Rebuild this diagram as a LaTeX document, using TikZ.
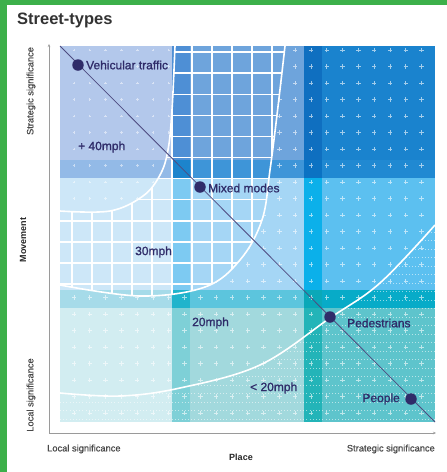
\documentclass[tikz,border=0pt]{standalone}
\usepackage{fontspec}
\setmainfont{Liberation Sans}
\newfontfamily\medfont[FakeBold=1.2]{Liberation Sans}
\newfontfamily\lightmed[FakeBold=0.6]{Liberation Sans}
\usetikzlibrary{arrows.meta}
% cell colours: row (a..e) then column (a..e)
\definecolor{caa}{HTML}{B3C8EB}\definecolor{cab}{HTML}{4E8FD5}\definecolor{cac}{HTML}{6EA4DC}\definecolor{cad}{HTML}{0F6FC0}\definecolor{cae}{HTML}{1A83CE}
\definecolor{cba}{HTML}{93BAE7}\definecolor{cbb}{HTML}{1C84CC}\definecolor{cbc}{HTML}{3E95D8}\definecolor{cbd}{HTML}{0B72C3}\definecolor{cbe}{HTML}{2089D2}
\definecolor{cca}{HTML}{CDE7F8}\definecolor{ccb}{HTML}{7DCAF2}\definecolor{ccc}{HTML}{A5D6F5}\definecolor{ccd}{HTML}{0BB0EA}\definecolor{cce}{HTML}{5CC0F0}
\definecolor{cda}{HTML}{A6DBE9}\definecolor{cdb}{HTML}{20B4CC}\definecolor{cdc}{HTML}{5CC5DD}\definecolor{cdd}{HTML}{0AA8B8}\definecolor{cde}{HTML}{07ABC8}
\definecolor{cea}{HTML}{D2EDF1}\definecolor{ceb}{HTML}{7ED0D7}\definecolor{cec}{HTML}{A2D9DD}\definecolor{ced}{HTML}{23B4B8}\definecolor{cee}{HTML}{5EC4CC}
\definecolor{navy}{HTML}{2F2C69}
\definecolor{frame}{HTML}{3CB04A}
\definecolor{axisgrey}{HTML}{9A9A9A}
\definecolor{titlegrey}{HTML}{333333}
\definecolor{labgrey}{HTML}{4A4A4A}
\newcommand\drawcells{%
\fill[caa] (60,46) rectangle (172,160);\fill[cab] (172,46) rectangle (190,160);\fill[cac] (190,46) rectangle (304,160);\fill[cad] (304,46) rectangle (322,160);\fill[cae] (322,46) rectangle (435,160);
\fill[cba] (60,160) rectangle (172,178);\fill[cbb] (172,160) rectangle (190,178);\fill[cbc] (190,160) rectangle (304,178);\fill[cbd] (304,160) rectangle (322,178);\fill[cbe] (322,160) rectangle (435,178);
\fill[cca] (60,178) rectangle (172,290);\fill[ccb] (172,178) rectangle (190,290);\fill[ccc] (190,178) rectangle (304,290);\fill[ccd] (304,178) rectangle (322,290);\fill[cce] (322,178) rectangle (435,290);
\fill[cda] (60,290) rectangle (172,308);\fill[cdb] (172,290) rectangle (190,308);\fill[cdc] (190,290) rectangle (304,308);\fill[cdd] (304,290) rectangle (322,308);\fill[cde] (322,290) rectangle (435,308);
\fill[cea] (60,308) rectangle (172,422);\fill[ceb] (172,308) rectangle (190,422);\fill[cec] (190,308) rectangle (304,422);\fill[ced] (304,308) rectangle (322,422);\fill[cee] (322,308) rectangle (435,422);}
\tikzset{
  plusmark/.style={white,opacity=0.6,line width=0.9pt},
  smallplus/.style={white,opacity=0.5,line width=0.7pt},
  whitecurve/.style={white,line width=1.6pt},
  gridline/.style={white,line width=1.4pt},
  denserow/.style={white,opacity=0.55,line width=1pt,dash pattern=on 1pt off 2.2pt},
  axisline/.style={axisgrey,line width=0.6pt,-{Stealth[length=3pt,width=2.5pt]}},
  dotnode/.style={circle,fill=navy,inner sep=0pt,minimum size=11.5pt},
  lab/.style={navy,font=\medfont\fontsize{12}{14}\selectfont,inner sep=0pt},
  small/.style={labgrey,font=\lightmed\fontsize{9.3}{11}\selectfont,inner sep=0pt},
  smallbold/.style={black!85,font=\fontsize{9}{11}\selectfont\bfseries,inner sep=0pt}
}
\begin{document}
\begin{tikzpicture}[x=1pt,y=-1pt]
\useasboundingbox (0,0) rectangle (447,472);
\fill[white] (0,0) rectangle (447,472);
% green frame
\fill[frame] (0,0) rectangle (447,5);
\fill[frame] (0,0) rectangle (7,472);
% title
\node[anchor=west,titlegrey,font=\fontsize{16.5}{19}\selectfont\bfseries,inner sep=0pt] (title) at (17,20) {Street-types};
% background cells
\drawcells
% plus marks
\begin{scope}
\clip (60,46) rectangle (435,422);
\foreach \i in {0,...,22}{
  \pgfmathsetmacro\px{74+15.8*\i}
  \foreach \j in {0,...,22}{
    \pgfmathsetmacro\py{50+16.5*\j}
    \draw[plusmark] (\px-2.2,\py) -- (\px+2.2,\py) (\px,\py-2.2) -- (\px,\py+2.2);
  }
}
\end{scope}
% top-left blob with small plus marks
\begin{scope}
\clip (60,46) -- plot[smooth,tension=0.6] coordinates {(175,46) (172,110) (168,150) (160,175) (143,196) (110,211) (60,211)} -- cycle;
\drawcells
\foreach \i in {0,...,7}{
  \pgfmathsetmacro\px{74+15.8*\i}
  \foreach \j in {0,...,10}{
    \pgfmathsetmacro\py{50+16.5*\j}
    \draw[smallplus] (\px-1.3,\py) -- (\px+1.3,\py) (\px,\py-1.3) -- (\px,\py+1.3);
  }
}
\end{scope}
% grid region
\begin{scope}
\clip plot[smooth,tension=0.6] coordinates {(60,285) (140,296) (205,287) (240,260) (262,220) (270,170) (277,115) (285,46)} -- plot[smooth,tension=0.6] coordinates {(175,46) (172,110) (168,150) (160,175) (143,196) (110,211) (60,211)} -- cycle;
\drawcells
\foreach \gx in {72,92,...,292} \draw[gridline] (\gx,40) -- (\gx,305);
\foreach \gy in {52,73.1,...,300} \draw[gridline] (55,\gy) -- (300,\gy);
\end{scope}
% dense texture below bottom curve
\begin{scope}
\clip plot[smooth,tension=0.6] coordinates {(60,393) (120,396) (180,388) (260,365) (330,318) (380,283) (435,225)} -- (435,422) -- (60,422) -- cycle;
\foreach \dy in {232,240.5,...,420} \draw[denserow] (60,\dy) -- (435,\dy);
\end{scope}
% white curves
\draw[whitecurve] plot[smooth,tension=0.6] coordinates {(60,211) (110,211) (143,196) (160,175) (168,150) (172,110) (175,46)};
\draw[whitecurve] plot[smooth,tension=0.6] coordinates {(60,285) (140,296) (205,287) (240,260) (262,220) (270,170) (277,115) (285,46)};
\draw[whitecurve] plot[smooth,tension=0.6] coordinates {(60,393) (120,396) (180,388) (260,365) (330,318) (380,283) (435,225)};
% axes
\coordinate (origin) at (49,433);
\coordinate (ytop) at (49,44);
\coordinate (xend) at (436,433);
\draw[axisline] (origin) -- (ytop);
\draw[axisline] (origin) -- (xend);
% diagonal
\coordinate (dstart) at (60,46);
\coordinate (dend) at (435,422);
\draw[navy!85,line width=0.8pt] (dstart) -- (dend);
% dots
\node[dotnode] (veh) at (78,65) {};
\node[dotnode] (mix) at (200,187) {};
\node[dotnode] (ped) at (330,317) {};
\node[dotnode] (peo) at (411,399) {};
% labels
\node[lab,anchor=west] (lveh) at (86,65) {Vehicular traffic};
\node[lab,anchor=west] (l40) at (78,147) {+ 40mph};
\node[lab,anchor=west] (lmix) at (208,188) {Mixed modes};
\node[lab,anchor=west] (l30) at (135,252) {30mph};
\node[lab,anchor=west] (l20) at (192,323) {20mph};
\node[lab,anchor=west] (lped) at (347,323) {Pedestrians};
\node[lab,anchor=west] (llt20) at (250,388) {< 20mph};
\node[lab,anchor=east] (lpeo) at (400,399) {People};
% axis texts
\node[small,rotate=90] (ystrat) at (31,91) {Strategic significance};
\node[smallbold,rotate=90] (ymove) at (23,240) {Movement};
\node[small,rotate=90] (yloc) at (31,395) {Local significance};
\node[small,anchor=west] (xloc) at (47,449) {Local significance};
\node[small,anchor=east] (xstrat) at (435,449) {Strategic significance};
\node[smallbold] (xplace) at (241,457) {Place};
\end{tikzpicture}
\end{document}
